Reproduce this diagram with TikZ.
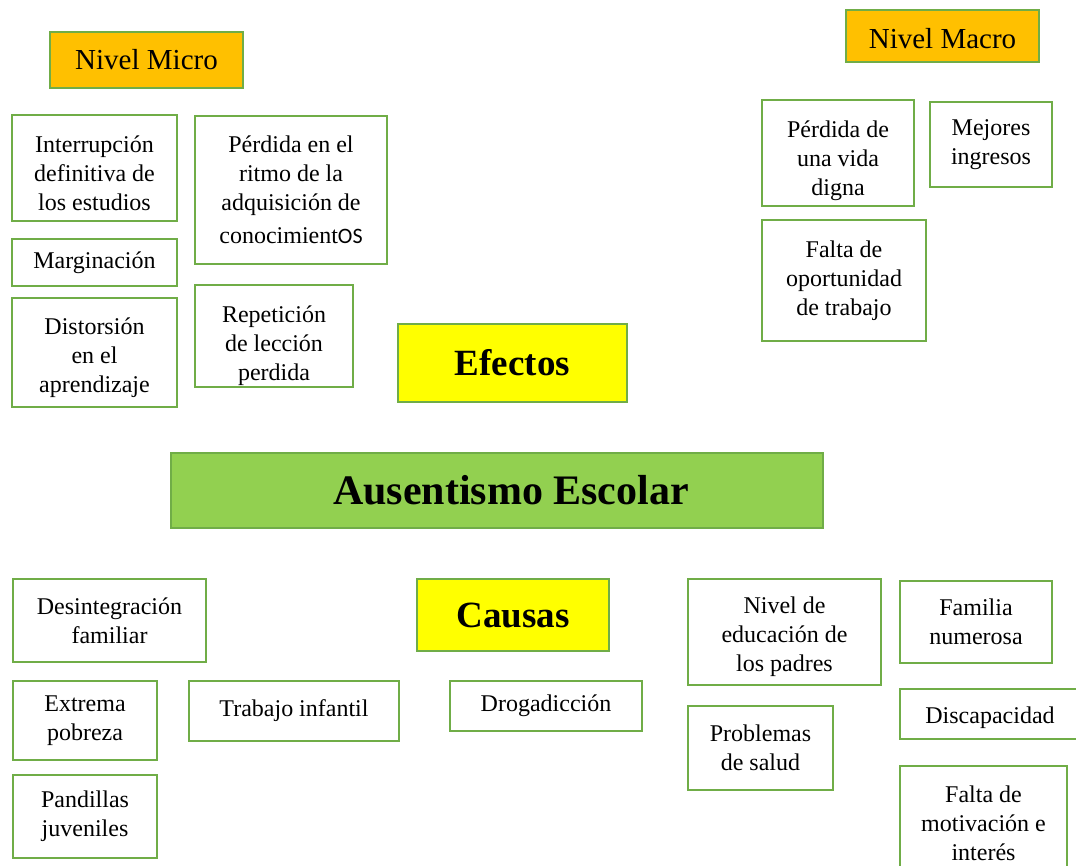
\documentclass[tikz,border=0pt]{standalone}
\usepackage{fontspec}
\setmainfont{Liberation Serif}
\newfontfamily\calib{Carlito}
\definecolor{boxgreen}{HTML}{70AD47}
\definecolor{levelorange}{HTML}{FFC000}
\definecolor{titlegreen}{HTML}{92D050}
\definecolor{tagyellow}{HTML}{FFFF00}
\newcommand{\topgap}[1]{\rule{0pt}{#1}}
\tikzset{
  cell/.style={draw=boxgreen, line width=2.5pt, fill=white, inner sep=0pt, align=center,
    font=\fontsize{24}{29}\selectfont},
  level/.style={cell, fill=levelorange, font=\fontsize{29}{34}\selectfont},
  tag/.style={cell, fill=tagyellow, font=\bfseries\fontsize{37}{42}\selectfont},
  title/.style={cell, fill=titlegreen, font=\bfseries\fontsize{42}{48}\selectfont}
}
\begin{document}
\begin{tikzpicture}[x=1pt, y=-1pt]
\useasboundingbox (0,0) rectangle (1076,866);

% efectos, nivel micro
\node[level, minimum width=193, minimum height=56] (micro) at (146.5,60) {Nivel Micro};
\node[cell, minimum width=165, minimum height=106] (interr) at (94.5,168) {\topgap{27pt}Interrupción\\definitiva de\\los estudios};
\node[cell, minimum width=192, minimum height=148] (ritmo) at (291,190) {Pérdida en el\\ritmo de la\\adquisición de\\[4pt]conocimient{\calib\fontsize{22}{29}\selectfont OS}};
\node[cell, minimum width=165, minimum height=47] (margin) at (94.5,262.5) {Marginación};
\node[cell, minimum width=165, minimum height=109] (distor) at (94.5,352.5) {\topgap{27pt}Distorsión\\en el\\aprendizaje};
\node[cell, minimum width=158, minimum height=102] (repet) at (274,336) {\topgap{36pt}Repetición\\de lección\\perdida};
\node[tag, minimum width=229, minimum height=78] (efectos) at (512.5,363) {Efectos};

% efectos, nivel macro
\node[level, minimum width=193, minimum height=52] (macro) at (942.5,36) {\topgap{26pt}Nivel Macro};
\node[cell, minimum width=152, minimum height=106] (vida) at (838,153) {\topgap{33pt}Pérdida de\\una vida\\digna};
\node[cell, minimum width=122, minimum height=85] (ingresos) at (991,144.5) {Mejores\\ingresos};
\node[cell, minimum width=164, minimum height=121] (oportun) at (844,280.5) {Falta de\\oportunidad\\de trabajo};

% problema central
\node[title, minimum width=652, minimum height=75] (ausent) at (497,490.5) {\hspace*{28pt}Ausentismo Escolar};

% causas
\node[cell, minimum width=193, minimum height=83] (desint) at (109.5,620.5) {Desintegración\\familiar};
\node[tag, minimum width=192, minimum height=72] (causas) at (513,615) {Causas};
\node[cell, minimum width=144, minimum height=79] (pobreza) at (85,720.5) {Extrema\\pobreza};
\node[cell, minimum width=210, minimum height=60] (trabajo) at (294,711) {Trabajo infantil};
\node[cell, minimum width=192, minimum height=50] (droga) at (546,706) {Drogadicción};
\node[cell, minimum width=144, minimum height=83] (pandillas) at (85,816.5) {Pandillas\\juveniles};
\node[cell, minimum width=193, minimum height=106] (educ) at (784.5,632) {\topgap{27pt}Nivel de\\educación de\\los padres};
\node[cell, minimum width=152, minimum height=82] (familia) at (976,622) {Familia\\numerosa};
\node[cell, minimum width=145, minimum height=84] (salud) at (760.5,748) {Problemas\\de salud};
\node[cell, minimum width=180, minimum height=50] (discap) at (990,714) {\topgap{24pt}Discapacidad};
\node[cell, minimum width=167, minimum height=114] (motiv) at (983.5,823) {Falta de\\motivación e\\interés};

\end{tikzpicture}
\end{document}
